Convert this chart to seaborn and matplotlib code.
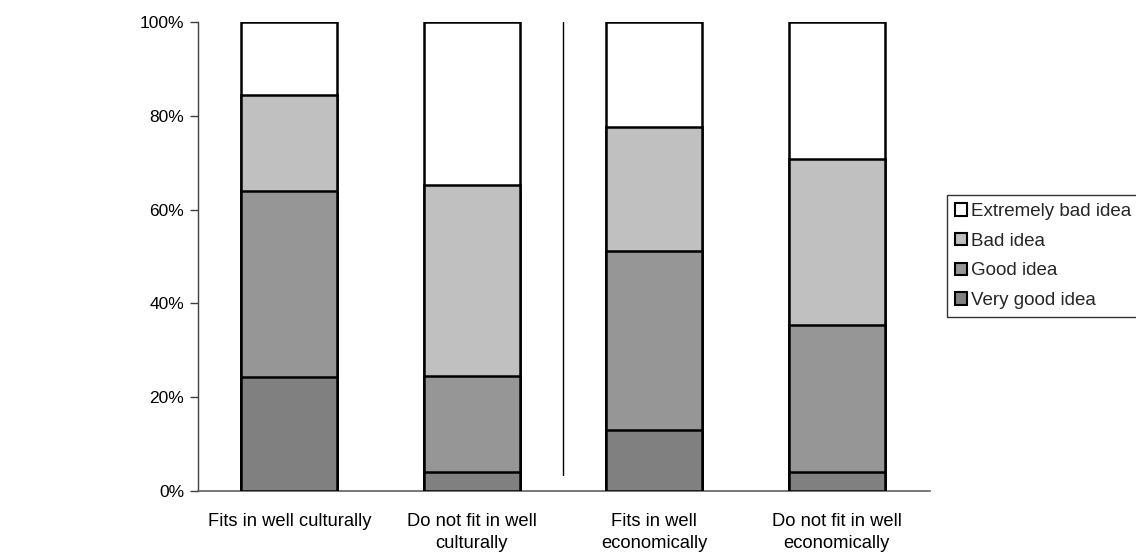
import matplotlib
matplotlib.use("Agg")
import matplotlib.pyplot as plt
import seaborn as sns
import pandas as pd
import numpy as np
from matplotlib.patches import Patch

categories = ["Fits in well culturally", "Do not fit in well\nculturally",
              "Fits in well\neconomically", "Do not fit in well\neconomically"]
very_good = [24.3, 4.0, 13.0, 4.0]
good = [39.7, 20.6, 38.2, 31.4]
bad = [20.4, 40.6, 26.4, 35.4]
extremely_bad = [15.6, 34.8, 22.4, 29.2]
series_names = ["Very good idea", "Good idea", "Bad idea", "Extremely bad idea"]
colors = ["#808080", "#969696", "#c0c0c0", "#ffffff"]
yticks = [0, 20, 40, 60, 80, 100]
ytick_labels = ["0%", "20%", "40%", "60%", "80%", "100%"]

sns.set_theme(style="white")
plt.rcParams['font.family'] = ['Liberation Sans', 'DejaVu Sans']

fig = plt.figure(figsize=(11.36, 5.52), dpi=100)
ax = fig.add_axes([198/1136, 61/552, (930-198)/1136, (491-22)/552])

series = [very_good, good, bad, extremely_bad]
cum = np.cumsum(np.array(series), axis=0)
# draw from top layer down so lower segments overlay
for i in range(len(series) - 1, -1, -1):
    df = pd.DataFrame({"cat": categories, "val": cum[i]})
    sns.barplot(data=df, x="cat", y="val", color=colors[i], saturation=1,
                edgecolor="black", linewidth=1.8, width=0.526, ax=ax, zorder=2 + (3 - i))

ax.set_xlim(-0.5, 3.51)
ax.set_ylim(0, 100)
ax.set_yticks(yticks)
ax.set_yticklabels(ytick_labels, fontsize=12.5, color="black")
ax.tick_params(axis="y", direction="out", length=6, width=1, color="#404040", pad=4, left=True)
ax.tick_params(axis="x", length=0, pad=15.5, labelsize=13.2, labelcolor="black")
for lbl in ax.get_xticklabels():
    lbl.set_linespacing(1.45)
ax.set_xlabel("")
ax.set_ylabel("")
for s in ["top", "right"]:
    ax.spines[s].set_visible(False)
ax.spines["left"].set_color("#404040")
ax.spines["left"].set_linewidth(1)
ax.spines["bottom"].set_color("#606060")
ax.spines["bottom"].set_linewidth(1.2)

# divider line between cultural and economic groups
ax.plot([1.5, 1.5], [3.4, 100], color="black", linewidth=1, zorder=1)

handles = [Patch(facecolor=colors[i], edgecolor="black", linewidth=1.5, label=series_names[i])
           for i in range(3, -1, -1)]
leg = fig.legend(handles=handles, loc="center left", bbox_to_anchor=(947/1136, (552-256)/552),
                 frameon=True, fancybox=False, edgecolor="black", fontsize=13.5,
                 handlelength=0.65, handleheight=0.65, handletextpad=0.2,
                 labelspacing=0.68, borderpad=0.42, borderaxespad=0)
leg.get_frame().set_linewidth(1)

fig.savefig("out.png", dpi=100)
